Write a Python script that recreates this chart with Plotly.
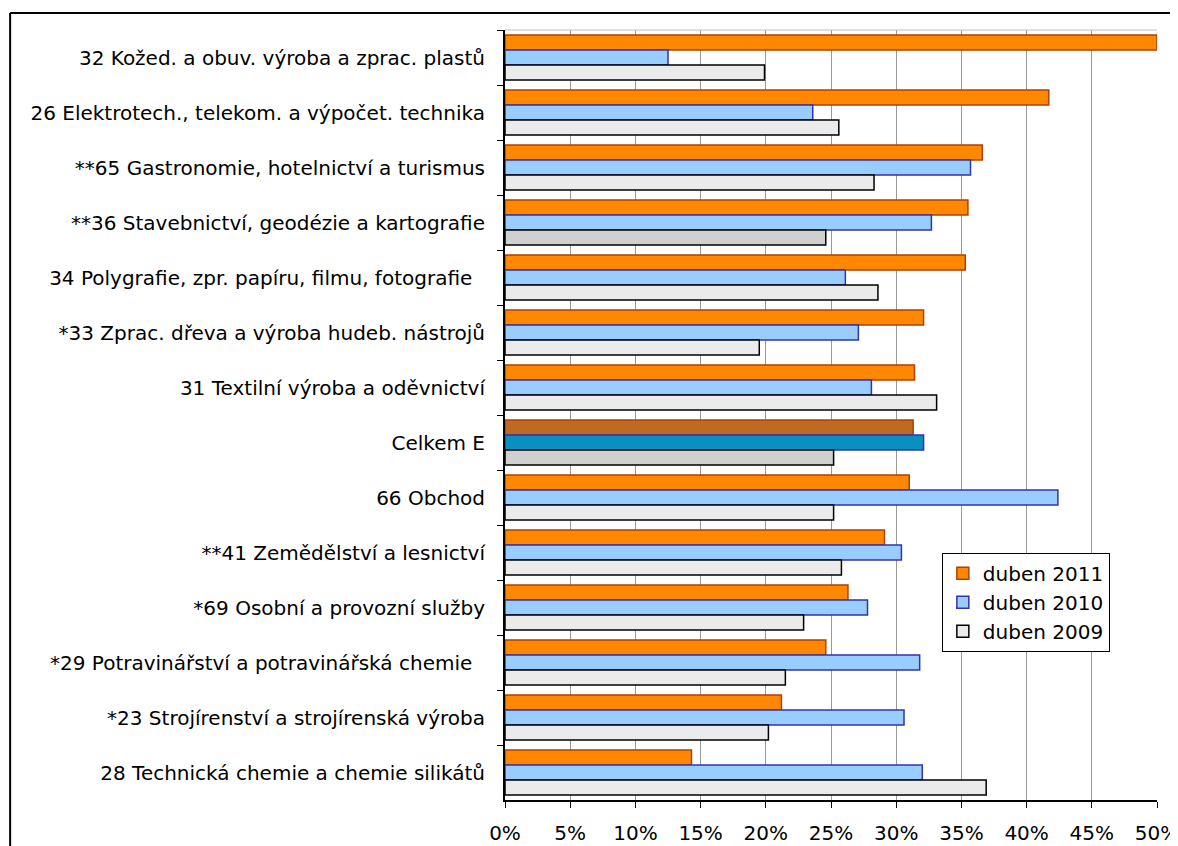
import plotly.graph_objects as go

# categories, top to bottom
categories = [
    "32 Kožed. a obuv. výroba a zprac. plastů",
    "26 Elektrotech., telekom. a výpočet. technika",
    "**65 Gastronomie, hotelnictví a turismus",
    "**36 Stavebnictví, geodézie a kartografie",
    "34 Polygrafie, zpr. papíru, filmu, fotografie\u00a0\u00a0",
    "*33 Zprac. dřeva a výroba hudeb. nástrojů",
    "31 Textilní výroba a oděvnictví",
    "Celkem E",
    "66 Obchod",
    "**41 Zemědělství a lesnictví",
    "*69 Osobní a provozní služby",
    "*29 Potravinářství a potravinářská chemie\u00a0\u00a0",
    "*23 Strojírenství a strojírenská výroba",
    "28 Technická chemie a chemie silikátů",
]

duben_2011 = [50.0, 41.7, 36.6, 35.5, 35.3, 32.1, 31.4, 31.3, 31.0, 29.1, 26.3, 24.6, 21.2, 14.3]
duben_2010 = [12.5, 23.6, 35.7, 32.7, 26.1, 27.1, 28.1, 32.1, 42.4, 30.4, 27.8, 31.8, 30.6, 32.0]
duben_2009 = [19.9, 25.6, 28.3, 24.6, 28.6, 19.5, 33.1, 25.2, 25.2, 25.8, 22.9, 21.5, 20.2, 36.9]

# colours per bar (Celkem E highlighted)
def colors(base, special, idx_list):
    return [special if i in idx_list else base for i in range(len(categories))]

series = [
    ("duben 2011", duben_2011, colors("#FF8800", "#BF6A22", [7]), "#B04000"),
    ("duben 2010", duben_2010, colors("#99CCFF", "#0890C0", [7]), "#3333AA"),
    ("duben 2009", duben_2009, colors("#EBEBEB", "#D0D0D0", [3, 7]), "#000000"),
]

fig = go.Figure()
for name, vals, cols, line in series:
    fig.add_trace(go.Bar(
        y=categories, x=vals, name=name, orientation="h",
        marker=dict(color=cols, line=dict(color=line, width=1.5)),
    ))

# page body has an 8px margin, so the figure is 8px smaller than the window
fig.update_layout(
    width=1170, height=838,
    margin=dict(l=497, r=21, t=22, b=46),
    paper_bgcolor="white", plot_bgcolor="white",
    font=dict(family="DejaVu Sans", size=20, color="black"),
    barmode="group", bargap=0.18, bargroupgap=0,
    legend=dict(x=0.670, y=0.321, xanchor="left", yanchor="top",
                bordercolor="black", borderwidth=1, bgcolor="white",
                font=dict(size=20), traceorder="normal", tracegroupgap=0),
    showlegend=True,
)

fig.update_xaxes(
    range=[0, 50], dtick=5, ticksuffix="%",
    showgrid=True, gridcolor="#999999", gridwidth=1,
    showline=True, linecolor="black", linewidth=2,
    ticks="outside", ticklen=6, tickcolor="black",
    ticklabeloverflow="allow", ticklabelstandoff=8,
    zeroline=False, automargin=False,
)
fig.update_yaxes(
    autorange="reversed",
    showline=True, linecolor="black", linewidth=2,
    ticks="outside", ticklen=6, tickcolor="black", tickson="boundaries",
    ticklabelstandoff=14, showgrid=False, automargin=False,
)

# light grey top edge of plot area and outer chart frame
fig.add_shape(type="line", xref="paper", yref="paper", x0=0, x1=1, y0=1, y1=1,
              line=dict(color="#C0C0C0", width=1))
fig.add_shape(type="line", xref="paper", yref="paper", x0=-0.759, x1=1.05, y0=1.022, y1=1.022,
              line=dict(color="black", width=2))
fig.add_shape(type="line", xref="paper", yref="paper", x0=-0.759, x1=-0.759, y0=1.022, y1=-0.1,
              line=dict(color="black", width=2))

fig.write_html("out.html")
